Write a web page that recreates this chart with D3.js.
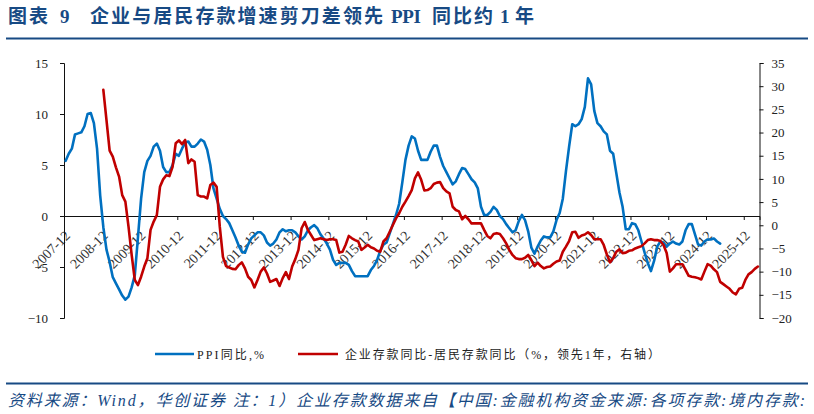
<!DOCTYPE html>
<html>
<head>
<meta charset="utf-8">
<title>企业与居民存款增速剪刀差领先 PPI</title>
<script src="https://d3js.org/d3.v7.min.js"></script>
<style>
    html, body { margin: 0; padding: 0; background: #fff; }
    text { font-family: "Liberation Serif", "Noto Sans CJK SC", serif; }
</style>
</head>
<body>
<script>
// monthly values, first month is 2007-12
var ppiValues = [5.4,
    6.1,6.6,8.0,8.1,8.2,8.8,10.0,10.1,9.1,6.6,2.0,-1.1,
    -3.3,-4.5,-6.0,-6.6,-7.2,-7.8,-8.2,-7.9,-7.0,-5.8,-2.1,1.7,
    4.3,5.4,5.9,6.8,7.1,6.4,4.8,4.3,4.3,5.0,6.1,5.9,
    6.6,7.2,7.3,6.8,6.8,7.1,7.5,7.3,6.5,5.0,2.7,1.7,
    0.7,0.0,-0.3,-0.7,-1.4,-2.1,-2.9,-3.5,-3.6,-2.8,-2.2,-1.9,
    -1.6,-1.6,-1.9,-2.6,-2.9,-2.7,-2.3,-1.6,-1.3,-1.5,-1.4,-1.4,
    -1.6,-2.0,-2.3,-2.0,-1.4,-1.1,-0.9,-1.2,-1.8,-2.2,-2.7,-3.3,
    -4.3,-4.8,-4.6,-4.6,-4.6,-4.8,-5.4,-5.9,-5.9,-5.9,-5.9,-5.9,
    -5.3,-4.9,-4.3,-3.4,-2.8,-2.6,-1.7,-0.8,0.1,1.2,3.3,5.5,
    6.9,7.8,7.6,6.4,5.5,5.5,5.5,6.3,6.9,6.9,5.8,4.9,
    4.3,3.7,3.1,3.4,4.1,4.7,4.6,4.1,3.6,3.3,2.7,0.9,
    0.1,0.1,0.4,0.9,0.6,0.0,-0.3,-0.8,-1.2,-1.6,-1.4,-0.5,
    0.1,-0.4,-1.5,-3.1,-3.7,-3.0,-2.4,-2.0,-2.1,-2.1,-1.5,-0.4,
    0.3,1.7,4.4,6.8,9.0,8.8,9.0,9.5,10.7,13.5,12.9,10.3,
    9.1,8.8,8.3,8.0,6.4,6.1,4.2,2.3,0.9,-1.3,-1.3,-0.7,
    -0.8,-1.4,-2.5,-3.6,-4.6,-5.4,-4.4,-3.0,-2.5,-2.6,-3.0,-2.7,
    -2.5,-2.7,-2.8,-2.5,-1.4,-0.8,-0.8,-1.8,-2.8,-2.9,-2.5,-2.3,
    -2.3,-2.2,-2.5,-2.7];

// gap series is shifted one year, so it starts 12 months later
var gapStart = 12;
var gapValues = [29.2,22.7,16.1,14.8,12.5,10.5,6.5,5.1,-0.3,-6.4,-11.8,-12.9,
    -11.1,-8.9,-7.1,-1.0,0.8,2.2,8.3,9.9,10.8,10.6,12.6,17.7,
    18.3,17.5,18.4,13.4,14.2,13.7,6.5,6.2,6.2,5.8,8.7,9.2,
    8.3,-0.3,-6.8,-8.8,-9.1,-9.4,-9.5,-8.6,-8.0,-9.3,-11.1,-11.8,
    -13.4,-11.8,-10.0,-9.1,-10.4,-12.2,-11.9,-11.6,-13.1,-11.4,-10.1,-11.6,
    -8.9,-7.3,-5.3,-0.65,0.7,-1.0,-2.1,-3.2,-3.0,-2.8,-3.0,-3.2,
    -3.0,-3.0,-3.2,-5.9,-5.7,-4.2,-2.3,-2.8,-3.2,-3.5,-5.3,-4.8,
    -4.2,-4.75,-5.0,-5.5,-5.7,-3.5,-2.8,-1.4,0.07,1.5,2.6,4.0,
    5.1,6.3,7.6,10.1,11.4,9.8,7.5,7.6,8.0,8.9,9.2,9.3,
    8.0,7.3,6.9,4.0,3.3,3.0,1.3,2.0,1.3,0.4,0.4,0.4,
    0.4,-1.0,-2.3,-2.8,-1.9,-1.7,-1.9,-2.8,-3.9,-5.3,-6.4,-7.1,
    -7.3,-7.3,-7.0,-6.4,-7.5,-8.8,-8.05,-8.8,-9.3,-9.0,-8.9,-8.3,
    -7.8,-7.6,-5.7,-4.6,-3.4,-1.5,-1.4,-2.7,-2.2,-2.0,-1.5,-2.1,
    -3.0,-3.0,-3.0,-4.25,-6.3,-8.0,-7.1,-5.7,-5.2,-6.0,-5.9,-5.5,
    -5.4,-5.0,-4.75,-4.5,-3.9,-3.2,-3.0,-3.2,-3.2,-3.4,-4.25,-6.0,
    -10.0,-9.3,-8.4,-8.4,-8.4,-9.6,-10.9,-11.1,-11.2,-11.4,-11.7,-10.0,
    -8.4,-8.7,-9.5,-10.1,-12.2,-12.7,-13.2,-13.7,-14.5,-14.9,-13.7,-13.5,
    -11.8,-10.6,-10.1,-9.4,-8.9];

var tickLabels = ["2007-12","2008-12","2009-12","2010-12","2011-12","2012-12","2013-12",
    "2014-12","2015-12","2016-12","2017-12","2018-12","2019-12","2020-12","2021-12",
    "2022-12","2023-12","2024-12","2025-12"];
var leftTicks = [15,10,5,0,-5,-10];
var rightTicks = [35,30,25,20,15,10,5,0,-5,-10,-15,-20];

var monthCount = 221;
var width = 814, height = 414;
var blue = "#0070c0", red = "#c00000", navy = "#174a84";

var svg = d3.select("body").append("svg")
    .attr("width", width)
    .attr("height", height)
    .style("display", "block");

var x = d3.scaleLinear().domain([0, monthCount]).range([64, 759.5]);
var yLeft = d3.scaleLinear().domain([-10, 15]).range([318, 63]);
var yRight = d3.scaleLinear().domain([-20, 35]).range([318, 63]);

// title and rules, the parts have their own gaps in the original
var titleParts = [
    {label: "图表", x: 8, w: 40},
    {label: "9", x: 60, w: 10},
    {label: "企业与居民存款增速剪刀差领先", x: 90, w: 293},
    {label: "PPI", x: 391, w: 30},
    {label: "同比约", x: 432, w: 61},
    {label: "1", x: 500, w: 9},
    {label: "年", x: 515, w: 20}
];
svg.selectAll("text.title")
    .data(titleParts)
    .enter().append("text")
    .attr("class", "title")
    .attr("x", function(d){ return d.x; })
    .attr("y", 23)
    .attr("font-size", 19).attr("font-weight", "bold").attr("fill", navy)
    .attr("textLength", function(d){ return d.w; })
    .text(function(d){ return d.label; });

svg.selectAll("line.rule")
    .data([38.5, 383.5])
    .enter().append("line")
    .attr("class", "rule")
    .attr("x1", 6).attr("x2", 808)
    .attr("y1", function(d){ return d; })
    .attr("y2", function(d){ return d; })
    .attr("stroke", navy).attr("stroke-width", 2);

// axes
var axisX = d3.axisBottom(x)
    .tickValues(tickLabels.map(function(d,i){ return i * 12; }))
    .tickFormat(function(d,i){ return tickLabels[i]; })
    .tickSizeOuter(0)
    .tickSize(4);

var gx = svg.append("g")
    .attr("transform", "translate(0," + yLeft(0) + ")")
    .call(axisX);
gx.selectAll("text")
    .attr("font-size", 14).attr("fill", "#333")
    .attr("text-anchor", "end")
    .attr("transform", "translate(3,17) rotate(-45)")
    .attr("x", 0).attr("y", 0).attr("dy", "0.35em");

var gl = svg.append("g")
    .attr("transform", "translate(64,0)")
    .call(d3.axisLeft(yLeft).tickValues(leftTicks).tickSize(4).tickPadding(12).tickSizeOuter(4));
gl.selectAll("text").attr("font-size", 13).attr("fill", "#222");

var gr = svg.append("g")
    .attr("transform", "translate(759.5,0)")
    .call(d3.axisRight(yRight).tickValues(rightTicks).tickSize(4).tickPadding(8).tickSizeOuter(4));
gr.selectAll("text").attr("font-size", 13).attr("fill", "#222");

svg.selectAll(".domain").attr("stroke", "#111");
svg.selectAll(".tick line").attr("stroke", "#111");

// series
var ppiLine = d3.line()
    .x(function(d,i){ return x(i + 0.5); })
    .y(function(d){ return yLeft(d); });

var gapLine = d3.line()
    .x(function(d,i){ return x(i + gapStart + 0.5); })
    .y(function(d){ return yRight(d); });

svg.append("path").datum(ppiValues)
    .attr("d", ppiLine)
    .attr("fill", "none").attr("stroke", blue)
    .attr("stroke-width", 2.6).attr("stroke-linejoin", "round").attr("stroke-linecap", "round");

svg.append("path").datum(gapValues)
    .attr("d", gapLine)
    .attr("fill", "none").attr("stroke", red)
    .attr("stroke-width", 2.6).attr("stroke-linejoin", "round").attr("stroke-linecap", "round");

// legend
var legendItems = [
    {label: "PPI同比,%", color: blue, x1: 155, x2: 194, tx: 197, tw: 67},
    {label: "企业存款同比-居民存款同比\uFF08%\uFF0C领先1年\uFF0C右轴\uFF09", color: red, x1: 298, x2: 338, tx: 345, tw: 315}
];
var legend = svg.selectAll("g.legend")
    .data(legendItems)
    .enter().append("g")
    .attr("class", "legend");
legend.append("line")
    .attr("x1", function(d){ return d.x1; })
    .attr("x2", function(d){ return d.x2; })
    .attr("y1", 354).attr("y2", 354)
    .attr("stroke", function(d){ return d.color; })
    .attr("stroke-width", 2.6);
legend.append("text")
    .attr("x", function(d){ return d.tx; })
    .attr("y", 358.5)
    .attr("font-size", 12).attr("fill", "#222")
    .attr("textLength", function(d){ return d.tw; })
    .text(function(d){ return d.label; });

// source note
svg.append("text")
    .attr("x", 8).attr("y", 406)
    .attr("font-size", 16).attr("font-style", "italic").attr("fill", navy)
    .attr("textLength", 797)
    .text("资料来源\uFF1AWind\uFF0C华创证券 注\uFF1A1\uFF09企业存款数据来自【中国:金融机构资金来源:各项存款:境内存款:");
</script>
</body>
</html>
